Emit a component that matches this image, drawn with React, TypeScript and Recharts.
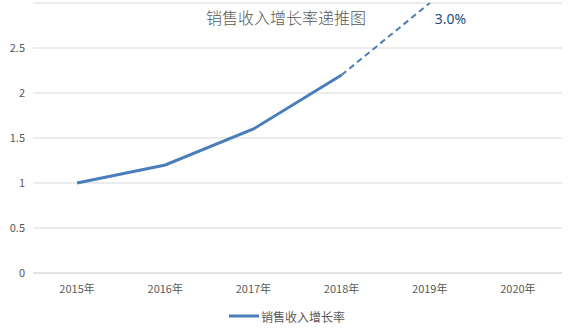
import React from "react";
import { ComposedChart, Line, XAxis, YAxis, CartesianGrid, Legend } from "recharts";

const years = ["2015年", "2016年", "2017年", "2018年", "2019年", "2020年"];
const actual: (number | null)[] = [1.0, 1.2, 1.6, 2.2, null, null];
const forecast: (number | null)[] = [null, null, null, 2.2, 3.0, null];
const forecastLabels: (string | null)[] = [null, null, null, null, "3.0%", null];
const yTicks = [0, 0.5, 1, 1.5, 2, 2.5];
const title = "销售收入增长率递推图";
const seriesName = "销售收入增长率";

const data = years.map((y, i) => ({
  year: y,
  actual: actual[i],
  forecast: forecast[i],
  label: forecastLabels[i],
}));

const BLUE = "#4A7EBB";
const FONT = "'Noto Sans CJK SC', 'Noto Sans', sans-serif";

const ForecastLabel = (props: any) => {
  const { x, y, index } = props;
  const t = forecastLabels[index];
  if (!t || x == null || y == null) return null;
  return (
    <text x={x + 5} y={y + 21} fill="#1F4E79" fontSize={14} fontFamily="'Noto Sans', sans-serif">
      {t}
    </text>
  );
};

const LegendContent = () => (
  <div style={{ display: "flex", justifyContent: "center", alignItems: "center", height: 16, paddingLeft: 12, fontFamily: FONT, fontSize: 12, color: "#595959" }}>
    <svg width={30} height={6} style={{ marginRight: 2 }}>
      <line x1={0} y1={3} x2={30} y2={3} stroke={BLUE} strokeWidth={3} />
    </svg>
    <span>{seriesName}</span>
  </div>
);

export default function App() {
  return (
    <div style={{ position: "absolute", left: 0, top: 0, width: 576, height: 336, background: "#fff" }}>
      <ComposedChart width={576} height={336} data={data} margin={{ top: 3, right: 14, bottom: 24, left: 0 }}>
        <CartesianGrid vertical={false} stroke="#d9d9d9" />
        <XAxis
          dataKey="year"
          scale="band"
          height={23}
          axisLine={{ stroke: "#d9d9d9" }}
          tickLine={false}
          tick={{ fill: "#595959", fontSize: 11, fontFamily: FONT }}
          tickMargin={6}
        />
        <YAxis
          width={33}
          domain={[0, 3]}
          ticks={yTicks}
          axisLine={false}
          tickLine={false}
          tick={{ fill: "#595959", fontSize: 11, fontFamily: FONT }}
        />
        <Legend verticalAlign="bottom" content={<LegendContent />} wrapperStyle={{ bottom: 12 }} />
        <Line
          dataKey="actual"
          name={seriesName}
          stroke={BLUE}
          strokeWidth={3}
          dot={false}
          activeDot={false}
          isAnimationActive={false}
          connectNulls={false}
        />
        <Line
          dataKey="forecast"
          stroke={BLUE}
          strokeWidth={2}
          strokeDasharray="6 4"
          dot={false}
          activeDot={false}
          isAnimationActive={false}
          legendType="none"
          label={<ForecastLabel />}
        />
        <text x={286} y={24} textAnchor="middle" fill="#595959" fontSize={16} fontWeight={300} fontFamily={FONT}>
          {title}
        </text>
      </ComposedChart>
    </div>
  );
}
